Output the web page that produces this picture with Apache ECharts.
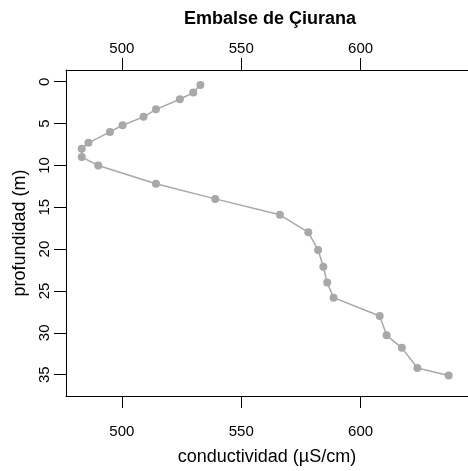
<!DOCTYPE html>
<html>
<head>
<meta charset="utf-8">
<script src="https://cdn.jsdelivr.net/npm/echarts@6/dist/echarts.min.js"></script>
<style>html,body{margin:0;padding:0;background:#fff}#c{width:468px;height:471px}</style>
</head>
<body>
<div id="c"></div>
<script>
const titleText = 'Embalse de Çiurana';
const xName = 'conductividad (µS/cm)';
const yName = 'profundidad (m)';
const conductividad = [532.9, 529.9, 524.3, 514.3, 509.1, 500.3, 495.0, 486.0, 483.2, 483.2, 490.1, 514.3, 539.1, 566.2, 578.1, 582.2, 584.4, 586.0, 588.7, 608.0, 610.9, 617.3, 623.8, 636.9];
const profundidad = [0.4, 1.3, 2.1, 3.3, 4.2, 5.2, 6.0, 7.3, 8.0, 9.0, 10.0, 12.2, 14.0, 15.9, 18.0, 20.1, 22.1, 24.0, 25.8, 28.0, 30.3, 31.8, 34.2, 35.1];
const xTicks = [500, 550, 600];
const yTicks = [0, 5, 10, 15, 20, 25, 30, 35];

const font = "'Liberation Sans', Arial, sans-serif";
const chart = echarts.init(document.getElementById('c'), null, {renderer: 'canvas'});
const pts = conductividad.map((v, i) => [v, profundidad[i]]);
const xBase = {
  type: 'value', min: 476.6, max: 645,
  axisLine: {show: true, onZero: false, lineStyle: {color: '#000', width: 1}},
  axisTick: {show: true, length: 12, lineStyle: {color: '#000', width: 1}, customValues: xTicks},
  axisLabel: {show: true, color: '#000', fontSize: 15, fontFamily: font, customValues: xTicks},
  splitLine: {show: false}
};
chart.setOption({
  animation: false,
  backgroundColor: '#fff',
  graphic: [{
    type: 'text', x: 270, y: 19,
    style: {text: titleText, font: 'bold 18px ' + font, fill: '#000', textAlign: 'center', textVerticalAlign: 'middle'}
  }],
  grid: {left: 66, top: 70, width: 413.1, height: 326, containLabel: false},
  xAxis: [
    Object.assign({}, xBase, {position: 'bottom', name: xName, nameLocation: 'middle', nameGap: 52,
      nameTextStyle: {fontSize: 18, fontFamily: font, color: '#000'},
      axisLabel: Object.assign({}, xBase.axisLabel, {margin: 28})}),
    Object.assign({}, xBase, {position: 'top', axisLabel: Object.assign({}, xBase.axisLabel, {margin: 14})})
  ],
  yAxis: {
    type: 'value', inverse: true, min: -1.4, max: 37.55, position: 'left',
    name: yName, nameLocation: 'middle', nameGap: 27, nameRotate: 90,
    nameTextStyle: {fontSize: 18, fontFamily: font, color: '#000'},
    axisLine: {show: true, onZero: false, lineStyle: {color: '#000', width: 1}},
    axisTick: {show: true, length: 12, lineStyle: {color: '#000', width: 1}, customValues: yTicks},
    axisLabel: {show: true, rotate: 90, margin: 14, color: '#000', fontSize: 15, fontFamily: font, customValues: yTicks},
    splitLine: {show: false}
  },
  series: [{
    type: 'line', xAxisIndex: 0, data: pts,
    symbol: 'circle', symbolSize: 8, showSymbol: true,
    lineStyle: {color: '#a8a8a8', width: 1.5},
    itemStyle: {color: '#a8a8a8', borderWidth: 0},
    emphasis: {disabled: true}
  }]
});
</script>
</body>
</html>
